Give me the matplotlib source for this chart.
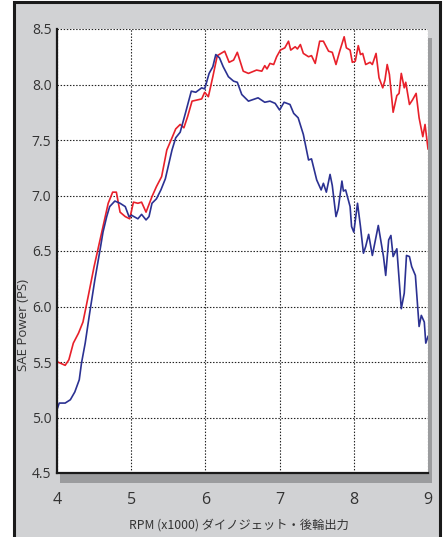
import matplotlib as mpl
import matplotlib.pyplot as plt
from matplotlib.patches import Rectangle

# Red curve (after)
rpm_red = [4.01, 4.11, 4.16, 4.22, 4.29, 4.35, 4.42, 4.50, 4.56, 4.60, 4.65, 4.69, 4.75, 4.80,
           4.85, 4.92, 4.98, 5.03, 5.09, 5.14, 5.20, 5.28, 5.34, 5.41, 5.48, 5.55, 5.60, 5.66,
           5.71, 5.76, 5.82, 5.95, 5.99, 6.04, 6.10, 6.16, 6.26, 6.32, 6.38, 6.43, 6.51, 6.58,
           6.69, 6.76, 6.80, 6.83, 6.87, 6.92, 6.96, 7.01, 7.07, 7.12, 7.15, 7.21, 7.24, 7.28,
           7.32, 7.39, 7.43, 7.48, 7.54, 7.59, 7.66, 7.71, 7.76, 7.81, 7.87, 7.90, 7.95, 7.98,
           8.02, 8.06, 8.09, 8.12, 8.16, 8.22, 8.25, 8.30, 8.34, 8.39, 8.42, 8.45, 8.48, 8.53,
           8.58, 8.61, 8.64, 8.68, 8.70, 8.75, 8.79, 8.84, 8.88, 8.93, 8.96, 9.00]
ps_red = [5.50, 5.47, 5.52, 5.67, 5.76, 5.86, 6.09, 6.36, 6.54, 6.66, 6.81, 6.93, 7.03, 7.03,
          6.85, 6.81, 6.79, 6.94, 6.93, 6.94, 6.85, 6.99, 7.08, 7.17, 7.41, 7.52, 7.60, 7.64,
          7.61, 7.71, 7.85, 7.87, 7.93, 7.89, 8.07, 8.26, 8.30, 8.20, 8.22, 8.29, 8.12, 8.10,
          8.13, 8.12, 8.17, 8.14, 8.19, 8.18, 8.25, 8.31, 8.33, 8.39, 8.31, 8.34, 8.32, 8.36,
          8.28, 8.25, 8.26, 8.19, 8.39, 8.39, 8.30, 8.29, 8.18, 8.30, 8.43, 8.33, 8.31, 8.20,
          8.21, 8.35, 8.27, 8.28, 8.18, 8.20, 8.18, 8.28, 8.06, 7.97, 8.04, 8.18, 8.09, 7.75,
          7.90, 7.92, 8.10, 7.97, 8.02, 7.82, 7.86, 7.92, 7.70, 7.53, 7.64, 7.42]

# Blue curve (before)
rpm_blue = [4.00, 4.03, 4.11, 4.18, 4.24, 4.30, 4.33, 4.38, 4.44, 4.51, 4.58, 4.62, 4.67, 4.71,
            4.78, 4.85, 4.92, 4.97, 5.01, 5.09, 5.14, 5.20, 5.24, 5.28, 5.34, 5.40, 5.46, 5.55,
            5.60, 5.66, 5.73, 5.81, 5.87, 5.95, 5.99, 6.05, 6.10, 6.14, 6.19, 6.24, 6.31, 6.38,
            6.43, 6.49, 6.58, 6.71, 6.80, 6.87, 6.94, 7.00, 7.06, 7.14, 7.19, 7.25, 7.32, 7.39,
            7.43, 7.50, 7.56, 7.59, 7.63, 7.68, 7.71, 7.76, 7.79, 7.84, 7.86, 7.89, 7.95, 7.97,
            8.00, 8.05, 8.09, 8.13, 8.16, 8.20, 8.25, 8.33, 8.40, 8.43, 8.47, 8.50, 8.53, 8.58,
            8.64, 8.68, 8.71, 8.75, 8.78, 8.83, 8.88, 8.91, 8.95, 8.97, 9.00]
ps_blue = [5.07, 5.13, 5.13, 5.16, 5.23, 5.34, 5.49, 5.67, 5.94, 6.24, 6.51, 6.67, 6.81, 6.90,
           6.95, 6.93, 6.90, 6.81, 6.82, 6.79, 6.83, 6.78, 6.81, 6.93, 6.97, 7.05, 7.15, 7.41,
           7.52, 7.57, 7.74, 7.94, 7.93, 7.97, 7.96, 8.10, 8.16, 8.27, 8.24, 8.16, 8.07, 8.03,
           8.02, 7.91, 7.85, 7.88, 7.84, 7.85, 7.83, 7.77, 7.84, 7.82, 7.74, 7.70, 7.55, 7.32,
           7.33, 7.14, 7.05, 7.11, 7.03, 7.19, 7.09, 6.81, 6.88, 7.13, 7.04, 7.05, 6.90, 6.72,
           6.67, 6.93, 6.72, 6.48, 6.54, 6.65, 6.46, 6.73, 6.45, 6.28, 6.60, 6.64, 6.45, 6.52,
           5.98, 6.12, 6.46, 6.45, 6.36, 6.28, 5.82, 5.92, 5.86, 5.67, 5.73]

x_ticks = [4, 5, 6, 7, 8, 9]
y_ticks = [4.5, 5.0, 5.5, 6.0, 6.5, 7.0, 7.5, 8.0, 8.5]

W, H = 445, 537
fig = plt.figure(figsize=(W / 100, H / 100), dpi=100)
fig.patch.set_facecolor('white')

# gray panel with dark frame
fig.patches.append(Rectangle((13.5 / W, -0.05), (439.5 - 13.5) / W, 1.05 - 2 / H,
                             transform=fig.transFigure, facecolor='#d1d2d4',
                             edgecolor='#1a1a1a', linewidth=2.2, zorder=0))
# drop shadow behind plot area
fig.patches.append(Rectangle((60 / W, 1 - 483 / H), (432 - 60) / W, (483 - 38) / H,
                             transform=fig.transFigure, facecolor='#9b9c9e',
                             edgecolor='none', zorder=1))

ax = fig.add_axes([57 / W, 1 - 473 / H, (428 - 57) / W, (473 - 29) / H])
ax.set_facecolor('white')
ax.set_zorder(2)

ax.plot(rpm_red, ps_red, color='#e8202a', linewidth=1.2)
ax.plot(rpm_blue, ps_blue, color='#2b3192', linewidth=1.2)

ax.set_xlim(4, 9)
ax.set_ylim(4.5, 8.5)
ax.set_xticks(x_ticks)
ax.set_yticks(y_ticks)
ax.set_xticklabels([str(t) for t in x_ticks])
ax.set_yticklabels(['%.1f' % t for t in y_ticks])

ax.grid(True, color='#222222', linestyle=(0, (1.3, 1.5)), linewidth=0.8)
ax.set_axisbelow(True)

for s in ['top', 'right']:
    ax.spines[s].set_visible(False)
for s in ['left', 'bottom']:
    ax.spines[s].set_linewidth(1.6)
    ax.spines[s].set_color('#1a1a1a')

ax.xaxis.set_tick_params(length=0, pad=14, labelsize=11.5, labelcolor='#333333')
ax.yaxis.set_tick_params(length=0, pad=4, labelsize=10, labelcolor='#333333')
for lbl in ax.get_xticklabels() + ax.get_yticklabels():
    lbl.set_family('Open Sans')

fig.text(239 / W, 1 - 525 / H, 'RPM (x1000) ダイノジェット・後輪出力',
         ha='center', va='center', fontsize=8.8, color='#333333',
         family=['Noto Sans CJK JP', 'DejaVu Sans'])
fig.text(24 / W, 1 - 325 / H, 'SAE Power (PS)', rotation=90,
         ha='center', va='center', fontsize=9.5, color='#333333', family='Open Sans')

plt.savefig('out.png', dpi=100)
